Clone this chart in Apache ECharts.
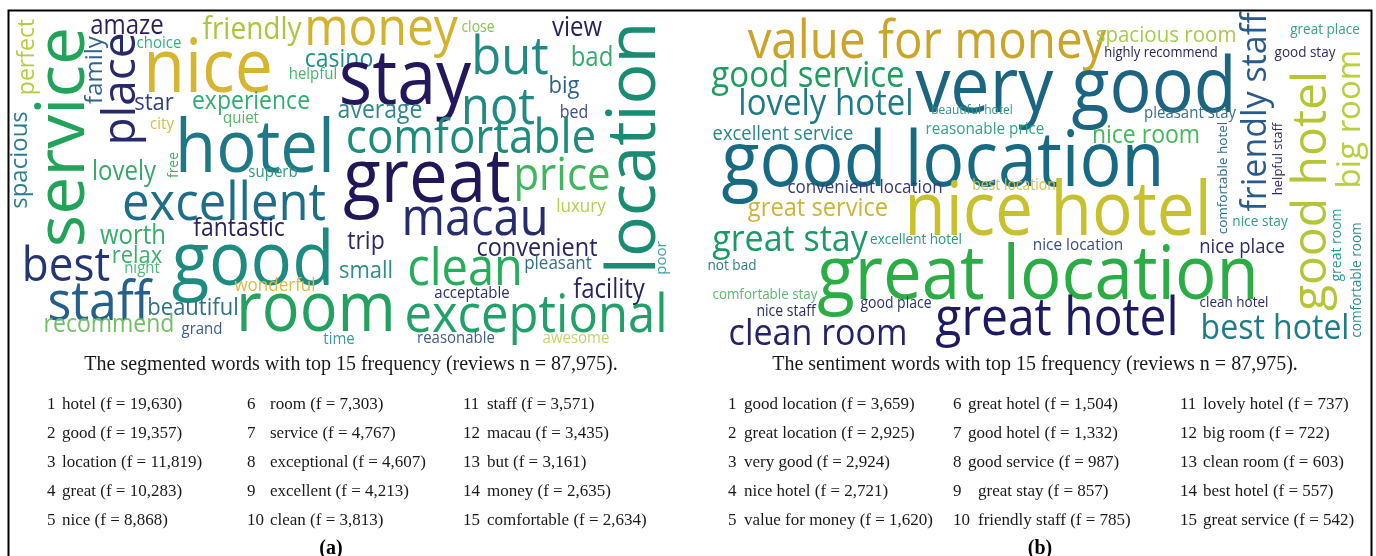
<!DOCTYPE html>
<html>
<head>
<meta charset="utf-8">
<title>word clouds</title>
<script src="https://cdn.jsdelivr.net/npm/echarts@6/dist/echarts.min.js"></script>
<style>
  html, body { margin: 0; background: #fff; }
  #chart { width: 1376px; height: 556px; }
</style>
</head>
<body>
<div id="chart"></div>
<script>
// ---- data ----
// (a) segmented words shown in the cloud
const cloudWordsA = ['service', 'perfect', 'spacious', 'amaze', 'family', 'place', 'choice', 'nice', 'friendly', 'money',
  'close', 'view', 'casino', 'helpful', 'stay', 'but', 'bad', 'big', 'bed', 'location',
  'poor', 'star', 'experience', 'average', 'not', 'hotel', 'quiet', 'city', 'comfortable', 'lovely',
  'free', 'superb', 'great', 'price', 'excellent', 'luxury', 'macau', 'fantastic', 'worth', 'trip',
  'convenient', 'best', 'relax', 'night', 'good', 'small', 'clean', 'pleasant', 'wonderful', 'facility',
  'acceptable', 'staff', 'beautiful', 'room', 'exceptional', 'recommend', 'grand', 'time', 'reasonable', 'awesome']

// (b) sentiment words shown in the cloud
const cloudWordsB = ['value for money', 'good service', 'very good', 'spacious room', 'highly recommend', 'friendly staff',
  'great place', 'good stay', 'big room', 'good hotel', 'helpful staff', 'comfortable hotel', 'nice stay',
  'great room', 'comfortable room', 'best hotel', 'clean hotel', 'nice place', 'pleasant stay', 'nice room',
  'good location', 'beautiful hotel', 'lovely hotel', 'excellent service', 'reasonable price', 'convenient location',
  'best location', 'nice hotel', 'great service', 'great stay', 'excellent hotel', 'nice location', 'great location',
  'not bad', 'comfortable stay', 'good place', 'nice staff', 'clean room', 'great hotel']

// top 15 tables
const topWordsA = ['hotel', 'good', 'location', 'great', 'nice', 'room', 'service', 'exceptional', 'excellent', 'clean',
  'staff', 'macau', 'but', 'money', 'comfortable']
const topFreqA = [19630, 19357, 11819, 10283, 8868, 7303, 4767, 4607, 4213, 3813, 3571, 3435, 3161, 2635, 2634]
const topWordsB = ['good location', 'great location', 'very good', 'nice hotel', 'value for money', 'great hotel',
  'good hotel', 'good service', 'great stay', 'friendly staff', 'lovely hotel', 'big room', 'clean room',
  'best hotel', 'great service']
const topFreqB = [3659, 2925, 2924, 2721, 1620, 1504, 1332, 987, 857, 785, 737, 722, 603, 557, 542]
const reviewsN = 87975

// ---- layout (centre x, centre y, font size, rotation, colour) ----
const layoutA = [
  [65, 137, 68, 90, '#21a35a'], [27, 57, 23, 90, '#b9cc3d'], [20, 160, 24, 90, '#2c7d8c'],
  [127, 26, 24, 0, '#2d1e5e'], [95, 70, 24, 90, '#33638d'], [122, 89, 46, 90, '#27296b'],
  [159, 43, 15, 0, '#2db27d'], [208, 71, 68, 0, '#d6b530'], [252, 30, 28, 0, '#a5c93b'],
  [381, 30, 48, 0, '#d4b22d'], [478, 28, 14, 0, '#86c64a'], [577, 28, 24, 0, '#2a2160'],
  [339, 60, 23, 0, '#21908d'], [313, 74, 15, 0, '#42b867'], [405, 82, 70, 0, '#25175c'],
  [510, 59, 49, 0, '#238a82'], [592, 58, 24, 0, '#35a96c'], [564, 86, 22, 0, '#2f5f8a'],
  [574, 113, 16, 0, '#3d4f8a'], [636, 148, 68, 90, '#1b8c74'], [662, 258, 15, 90, '#45a0a0'],
  [154, 103, 22, 0, '#33407d'], [251, 102, 23, 0, '#2fae6f'], [380, 111, 23, 0, '#30888a'],
  [498, 109, 47, 0, '#228a80'], [255, 151, 67, 0, '#1f7886'], [241, 118, 15, 0, '#4db85f'],
  [162, 124, 15, 0, '#d6c042'], [471, 139, 44, 0, '#1e8c7a'], [124, 172, 24, 0, '#36a96a'],
  [174, 165, 14, 90, '#40af6a'], [273, 172, 15, 0, '#2f9b7e'], [427, 180, 69, 0, '#201658'],
  [562, 177, 42, 0, '#42b65e'], [224, 205, 49, 0, '#1d6e86'], [581, 207, 17, 0, '#b2cf4e'],
  [475, 220, 47, 0, '#262c6c'], [239, 229, 23, 0, '#2b1f5f'], [133, 236, 24, 0, '#36ad68'],
  [366, 242, 23, 0, '#2d2862'], [537, 249, 23.5, 0, '#29265f'], [66, 267, 44, 0, '#253472'],
  [137, 256, 22, 0, '#3fb06c'], [142, 268, 15, 0, '#4dba78'], [253, 263, 69, 0, '#1d8b80'],
  [366, 271, 22, 0, '#2e8d8c'], [465, 270, 47, 0, '#25ad5c'], [558, 264, 17, 0, '#34708e'],
  [275, 286, 17, 0, '#dcbc45'], [609, 290, 24, 0, '#262462'], [472, 293, 15, 0, '#2d2f6c'],
  [99, 304, 50, 0, '#24608a'], [193, 308, 22, 0, '#2c7089'], [316, 311, 63, 0, '#22a25e'],
  [536, 317, 49, 0, '#22a06a'], [109, 325, 23, 0, '#72c064'], [202, 329, 15, 0, '#3a5b8c'],
  [339, 339, 15, 0, '#3c9a96'], [456, 338, 15, 0, '#3f5d90'], [576, 338, 15, 0, '#c7d46a']
]

const layoutB = [
  [927, 43, 47.5, 0, '#cba42a'], [808, 77, 33, 0, '#1f9c5f'], [1076, 90, 70, 0, '#1c6480'],
  [1166, 36, 20.5, 0, '#a6cd48'], [1161, 53, 13, 0, '#2b2260'], [1256, 112, 34, 90, '#2a5a8c'],
  [1325, 30, 13.5, 0, '#35a28c'], [1305, 53, 13.5, 0, '#2e2c63'], [1351, 119, 33, 90, '#b9cf3e'],
  [1312, 191, 48, 90, '#b5c535'], [1278, 159, 13, 90, '#2c2a62'], [1223, 178, 13.5, 90, '#2d6d8e'],
  [1260, 222, 13.7, 0, '#2ea08a'], [1337, 245, 14, 90, '#2b9c8e'], [1357, 280, 13.6, 90, '#2f8a8e'],
  [1275, 329, 32, 0, '#1f7b86'], [1234, 303, 13.5, 0, '#2b2a64'], [1242, 247, 18.5, 0, '#2c2c68'],
  [1190, 113, 15, 0, '#3a6f8d'], [1146, 136, 23, 0, '#44b95a'], [943, 164, 70, 0, '#176a82'],
  [972, 110, 12, 0, '#2f948a'], [826, 105, 33, 0, '#1f7a85'], [783, 134, 18.4, 0, '#2a858a'],
  [985, 129, 15.3, 0, '#32a67f'], [865, 188, 17, 0, '#363a78'], [1014, 186, 14, 0, '#d2c24d'],
  [1058, 214, 67.6, 0, '#c6c12c'], [818, 209, 23.7, 0, '#cfb33a'], [790, 240, 34, 0, '#1c9a66'],
  [916, 240, 13.5, 0, '#2a9a84'], [1078, 245, 15.4, 0, '#3b4d80'], [1038, 277, 69, 0, '#2aad45'],
  [732, 266, 13.6, 0, '#2f7e8c'], [765, 295, 13.4, 0, '#58bb6c'], [896, 304, 14, 0, '#2e3070'],
  [786, 312, 14, 0, '#2d2d68'], [818, 334, 34, 0, '#24236a'], [1057, 320, 48, 0, '#1e1a62']
]

// table columns: number x, word x
const numXA = [47, 47, 47, 47, 47, 247, 247, 247, 247, 247, 463, 463, 463, 463, 463]
const textXA = [62, 62, 62, 62, 62, 270, 270, 270, 270, 270, 487, 487, 487, 487, 487]
const numXB = [728, 728, 728, 728, 728, 953, 953, 953, 953, 953, 1180, 1180, 1180, 1180, 1180]
const textXB = [744, 744, 744, 744, 744, 968, 968, 968, 978, 978, 1203, 1203, 1203, 1203, 1203]

const FONT = '"Open Sans", "Noto Sans", sans-serif'
const SERIF = '"Liberation Serif", "DejaVu Serif", serif'
const STRETCH = 1.1

const renderWord = (words, layout) => (params, api) => {
  const i = params.dataIndex
  const l = layout[i]
  const p = api.coord([l[0], l[1]])
  const vertical = l[3] === 90
  return {
    type: 'text',
    x: p[0],
    y: p[1],
    rotation: vertical ? Math.PI / 2 : 0,
    scaleY: vertical ? 1 : STRETCH,
    style: {
      text: words[i], fontSize: l[2], fontFamily: FONT, fill: l[4],
      align: 'center', verticalAlign: 'middle'
    }
  }
}

const fmt = v => v.toLocaleString('en-US')

const tableText = (words, freqs, numX, textX) => {
  const out = []
  words.forEach((w, i) => {
    const y = 405 + 29 * (i % 5)
    out.push({ type: 'text', x: numX[i], y, silent: true,
      style: { text: String(i + 1), font: '17px ' + SERIF, fill: '#1a1a1a', verticalAlign: 'middle', textVerticalAlign: 'middle' } })
    out.push({ type: 'text', x: textX[i], y, silent: true,
      style: { text: w + ' (f = ' + fmt(freqs[i]) + ')', font: '17px ' + SERIF, fill: '#1a1a1a', verticalAlign: 'middle', textVerticalAlign: 'middle' } })
  })
  return out
}

const caption = (text, x) => ({
  type: 'text', x, y: 365, silent: true,
  style: { text, font: '20px ' + SERIF, fill: '#1a1a1a', align: 'center', textAlign: 'center', verticalAlign: 'middle', textVerticalAlign: 'middle' }
})

const panelLabel = (text, x) => ({
  type: 'text', x, y: 549, silent: true,
  style: { text, font: 'bold 20px ' + SERIF, fill: '#000', align: 'center', textAlign: 'center', verticalAlign: 'middle', textVerticalAlign: 'middle' }
})

const chart = echarts.init(document.getElementById('chart'))
chart.setOption({
  animation: false,
  backgroundColor: '#fff',
  grid: { left: 0, right: 0, top: 0, bottom: 0 },
  xAxis: { type: 'value', min: 0, max: 1376, show: false },
  yAxis: { type: 'value', min: 0, max: 556, inverse: true, show: false },
  series: [
    {
      name: 'segmented',
      type: 'custom',
      clip: false,
      encode: { x: 0, y: 1 },
      renderItem: renderWord(cloudWordsA, layoutA),
      data: layoutA.map(l => [l[0], l[1]])
    },
    {
      name: 'sentiment',
      type: 'custom',
      clip: false,
      encode: { x: 0, y: 1 },
      renderItem: renderWord(cloudWordsB, layoutB),
      data: layoutB.map(l => [l[0], l[1]])
    }
  ],
  graphic: [
    { type: 'rect', silent: true, shape: { x: 8.5, y: 10.5, width: 1363, height: 600 },
      style: { fill: 'none', stroke: '#000', lineWidth: 2 } },
    caption('The segmented words with top 15 frequency (reviews n = ' + fmt(reviewsN) + ').', 351),
    caption('The sentiment words with top 15 frequency (reviews n = ' + fmt(reviewsN) + ').', 1035),
    ...tableText(topWordsA, topFreqA, numXA, textXA),
    ...tableText(topWordsB, topFreqB, numXB, textXB),
    panelLabel('(a)', 331),
    panelLabel('(b)', 1040)
  ]
})
</script>
</body>
</html>
